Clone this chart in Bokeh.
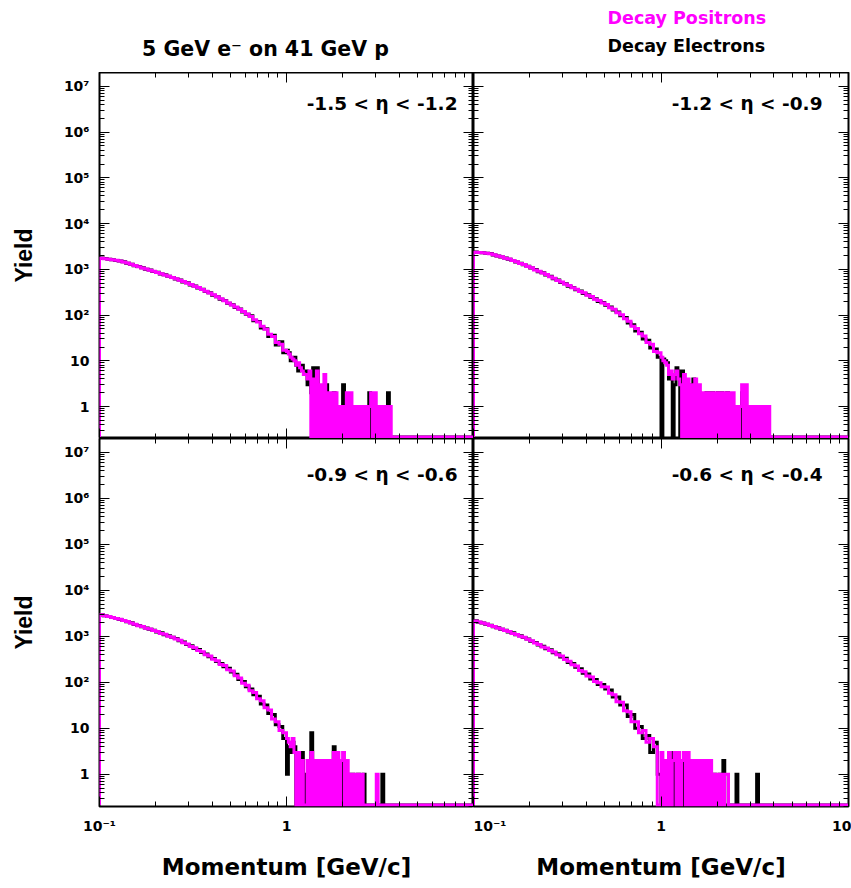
import numpy as np
from bokeh.plotting import figure
from bokeh.layouts import column, row
from bokeh.models import FixedTicker, LogAxis, LogScale, Label
from bokeh.embed import file_html
from bokeh.resources import INLINE

# ---------------------------------------------------------------------------
# Momentum binning: 50 log bins per decade from 0.1 to 1 GeV/c, then
# 100 log bins per decade from 1 to ~4 GeV/c
# ---------------------------------------------------------------------------
edges = np.concatenate([10 ** (-1 + np.arange(50) / 50),
                        10 ** (np.arange(61) / 100)])

# Yields per bin: *_lo covers 0.1-1 GeV/c, *_hi covers 1-4 GeV/c
pos_eta1_lo = [1740, 1700, 1650, 1610, 1570, 1510, 1450, 1370, 1280, 1210,
               1140, 1070, 1010, 950, 900, 850, 800, 750, 705, 660,
               620, 575, 540, 500, 462, 428, 398, 362, 332, 302,
               276, 250, 226, 206, 184, 166, 150, 133, 119, 105,
               93, 79, 70, 57, 49, 38, 34, 25, 23, 17]
pos_eta1_hi = [16, 14, 12, 11, 10, 8, 9, 7, 6, 5,
               5, 4, 6, 0, 4, 0, 6, 0, 3, 0,
               5, 0, 2, 0, 2, 0, 2, 0, 1, 0,
               1, 0, 2, 0, 2, 0, 1, 0, 1, 0,
               1, 0, 1, 0, 1, 2, 0, 2, 0, 1,
               0, 1, 0, 1, 0, 1, 0, 0, 0, 0]
ele_eta1_lo = [1760, 1710, 1660, 1620, 1560, 1520, 1460, 1360, 1290, 1200,
               1150, 1080, 1000, 960, 890, 860, 790, 760, 700, 665,
               610, 580, 530, 505, 455, 430, 390, 365, 325, 305,
               270, 252, 222, 208, 180, 168, 146, 135, 116, 104,
               96, 75, 72, 52, 50, 34, 36, 22, 26, 15]
ele_eta1_hi = [17, 15, 10, 11, 12, 8, 6, 7, 8, 6,
               6, 3, 5, 2, 7, 0, 7, 0, 0, 2,
               0, 3, 0, 1, 0, 2, 0, 1, 0, 1,
               3, 0, 1, 0, 1, 0, 1, 0, 0, 1,
               1, 0, 1, 0, 2, 0, 1, 0, 1, 0,
               1, 0, 0, 1, 2, 0, 0, 0, 0, 0]

pos_eta2_lo = [2370, 2340, 2290, 2250, 2180, 2070, 1950, 1870, 1750, 1670,
               1550, 1460, 1340, 1270, 1150, 1080, 970, 900, 825, 765,
               690, 635, 570, 530, 475, 440, 395, 368, 325, 305,
               272, 254, 220, 207, 182, 170, 145, 134, 112, 102,
               83, 73, 57, 51, 39, 35, 25, 23, 16, 15]
pos_eta2_hi = [12, 10, 9, 8, 5, 6, 4, 5, 6, 4,
               3, 0, 5, 0, 4, 0, 3, 0, 4, 0,
               3, 0, 2, 0, 2, 0, 2, 0, 2, 0,
               2, 0, 2, 0, 2, 0, 2, 0, 2, 0,
               1, 0, 1, 3, 0, 3, 0, 1, 0, 1,
               0, 1, 0, 1, 0, 1, 0, 1, 0, 0]
ele_eta2_lo = [2390, 2330, 2300, 2230, 2200, 2050, 1960, 1850, 1770, 1650,
               1560, 1440, 1360, 1250, 1160, 1060, 990, 880, 835, 750,
               700, 620, 580, 515, 485, 425, 400, 355, 335, 295,
               278, 246, 228, 198, 188, 164, 150, 128, 116, 96,
               88, 67, 61, 45, 42, 30, 28, 19, 18, 12]
ele_eta2_hi = [0, 11, 10, 9, 4, 5, 0, 3, 7, 6,
               0, 6, 0, 2, 0, 3, 0, 4, 1, 0,
               2, 0, 1, 0, 2, 2, 0, 2, 0, 1,
               2, 0, 2, 0, 1, 2, 0, 1, 0, 1,
               0, 1, 0, 2, 0, 1, 0, 1, 0, 1,
               1, 0, 1, 0, 1, 1, 0, 0, 0, 0]

pos_eta3_lo = [2950, 2820, 2700, 2570, 2440, 2350, 2200, 2100, 1960, 1830,
               1710, 1630, 1500, 1440, 1340, 1270, 1160, 1110, 1010, 960,
               880, 820, 730, 685, 605, 565, 495, 462, 398, 372,
               318, 296, 244, 231, 188, 176, 140, 124, 96, 86,
               66, 60, 44, 40, 28, 25, 16, 14, 9, 8]
pos_eta3_hi = [6, 5, 4, 6, 3, 0, 3, 0, 2, 0,
               0, 2, 0, 3, 0, 2, 0, 2, 0, 2,
               0, 2, 0, 2, 0, 3, 0, 3, 0, 2,
               3, 0, 2, 0, 1, 0, 1, 0, 1, 0,
               1, 0, 0, 0, 0, 0, 0, 0, 1, 0,
               0, 0, 0, 0, 0, 0, 0, 0, 0, 0]
ele_eta3_lo = [2960, 2810, 2690, 2580, 2450, 2330, 2220, 2080, 1980, 1810,
               1730, 1610, 1520, 1420, 1360, 1250, 1190, 1090, 1030, 950,
               900, 800, 750, 665, 625, 545, 515, 448, 412, 358,
               332, 284, 256, 219, 202, 168, 150, 116, 104, 80,
               72, 54, 50, 34, 32, 21, 20, 12, 11, 6]
ele_eta3_hi = [1, 4, 3, 5, 4, 0, 2, 0, 3, 0,
               1, 0, 2, 8, 0, 1, 0, 2, 0, 1,
               2, 0, 1, 0, 0, 4, 0, 1, 0, 2,
               0, 1, 0, 1, 0, 1, 0, 0, 1, 0,
               0, 1, 0, 0, 0, 0, 0, 0, 0, 0,
               0, 1, 0, 0, 0, 0, 0, 0, 0, 0]

pos_eta4_lo = [2160, 2050, 1940, 1850, 1730, 1630, 1520, 1450, 1340, 1270,
               1160, 1100, 1010, 960, 860, 800, 715, 665, 590, 555,
               490, 455, 400, 372, 315, 288, 242, 226, 182, 170,
               138, 130, 104, 98, 80, 79, 58, 54, 38, 37,
               24, 23, 14, 14, 8, 9, 5, 6, 4, 0]
pos_eta4_hi = [3, 0, 2, 0, 3, 0, 2, 3, 0, 3,
               0, 2, 3, 0, 3, 0, 2, 0, 2, 0,
               2, 0, 2, 0, 2, 0, 2, 0, 1, 0,
               1, 0, 1, 0, 1, 1, 0, 0, 0, 0,
               0, 0, 0, 0, 0, 0, 0, 0, 0, 0,
               0, 0, 0, 0, 0, 0, 0, 0, 0, 0]
ele_eta4_lo = [2170, 2030, 1960, 1830, 1750, 1610, 1540, 1430, 1360, 1250,
               1190, 1080, 1030, 945, 880, 785, 735, 650, 610, 540,
               510, 440, 420, 355, 335, 270, 258, 212, 198, 158,
               152, 118, 116, 90, 90, 72, 68, 48, 48, 32,
               32, 18, 20, 10, 11, 6, 7, 3, 5, 1]
ele_eta4_hi = [0, 2, 0, 1, 2, 0, 3, 0, 1, 0,
               2, 0, 3, 0, 1, 0, 1, 2, 0, 1,
               0, 2, 0, 1, 0, 1, 0, 0, 1, 0,
               0, 1, 0, 2, 0, 0, 0, 0, 0, 0,
               1, 0, 0, 0, 0, 0, 0, 0, 0, 0,
               0, 1, 0, 0, 0, 0, 0, 0, 0, 0]

eta_labels = ["-1.5 < η < -1.2", "-1.2 < η < -0.9",
              "-0.9 < η < -0.6", "-0.6 < η < -0.4"]

x_major = [0.1, 1.0, 10.0]
x_tick_labels = {0.1: "10⁻¹", 1.0: "1", 10.0: "10"}
y_major = [10.0 ** d for d in range(0, 8)]
y_tick_labels = {1.0: "1", 10.0: "10", 100.0: "10²", 1000.0: "10³",
                 1e4: "10⁴", 1e5: "10⁵", 1e6: "10⁶", 1e7: "10⁷"}

X_RANGE = (0.1, 10.0)
Y_RANGE = (0.2, 2.0e7)
EMPTY_LEVEL = 0.215   # empty bins are drawn just above the frame bottom

x_minor = [m * 10.0 ** d for d in (-1, 0) for m in range(2, 10)]
y_minor = [m * 10.0 ** d for d in range(-1, 8) for m in range(2, 10)
           if Y_RANGE[0] <= m * 10.0 ** d <= Y_RANGE[1]]

FONT = "DejaVu Sans"
MAGENTA = "#ff00ff"


def outline(lo, hi):
    """Histogram outline: empty bins sit on the bottom of the frame."""
    v = np.asarray(lo + hi, dtype=float)
    v = np.where(v > 0, v, EMPTY_LEVEL)
    xs = np.repeat(edges, 2)
    ys = np.concatenate([[EMPTY_LEVEL], np.repeat(v, 2), [EMPTY_LEVEL]])
    xs = np.append(xs, X_RANGE[1])
    ys = np.append(ys, EMPTY_LEVEL)
    return xs, ys


def tick_style(ax):
    ax.axis_line_color = None
    ax.major_tick_in = 10
    ax.major_tick_out = 0
    ax.minor_tick_out = 0
    ax.major_tick_line_color = "black"
    ax.minor_tick_line_color = "black"
    ax.major_tick_line_width = 1
    ax.minor_tick_line_width = 1


def labelled_axis(ax, major, minor, labels):
    """Axis carrying tick labels (major ticks long, minor ticks short)."""
    ax.ticker = FixedTicker(ticks=major, minor_ticks=minor)
    tick_style(ax)
    ax.minor_tick_in = 5
    ax.major_label_overrides = labels
    ax.major_label_text_font = FONT
    ax.major_label_text_font_style = "bold"
    ax.major_label_text_font_size = "14px"
    ax.major_label_text_color = "black"


def bare_axes(p, side, major, minor):
    """Unlabelled inward ticks: one axis for short ticks, one for long."""
    for positions, length in ((minor, 5), (major, 10)):
        ax = LogAxis(ticker=FixedTicker(ticks=[], minor_ticks=positions))
        tick_style(ax)
        ax.minor_tick_in = length
        p.add_layout(ax, side)


def panel(pos, ele, eta, eta_x, eta_y, width, height, borders,
          y_labels=None, x_labels=None):
    left, right, top, bottom = borders
    p = figure(width=width, height=height,
               x_axis_type=None, y_axis_type=None,
               x_range=X_RANGE, y_range=Y_RANGE,
               output_backend="svg", toolbar_location=None,
               min_border_left=left, min_border_right=right,
               min_border_top=top, min_border_bottom=bottom)
    p.x_scale = LogScale()
    p.y_scale = LogScale()
    p.grid.visible = False
    p.background_fill_color = "white"
    p.border_fill_color = "white"
    p.outline_line_color = "black"
    p.outline_line_width = 2

    if x_labels is not None:
        xb = LogAxis()
        labelled_axis(xb, list(x_labels), x_minor, x_labels)
        xb.axis_label = "Momentum [GeV/c]"
        xb.axis_label_text_font = FONT
        xb.axis_label_text_font_style = "bold"
        xb.axis_label_text_font_size = "23px"
        xb.axis_label_text_color = "black"
        xb.axis_label_standoff = 17
        xb.major_label_standoff = 11
        p.add_layout(xb, "below")
    else:
        bare_axes(p, "below", x_major, x_minor)

    if y_labels is not None:
        yl = LogAxis()
        labelled_axis(yl, y_major, y_minor, y_labels)
        yl.axis_label = "Yield"
        yl.axis_label_text_font = "Liberation Sans"
        yl.axis_label_text_font_style = "bold"
        yl.axis_label_text_font_size = "23px"
        yl.axis_label_text_color = "black"
        yl.axis_label_standoff = 24
        yl.major_label_standoff = 10
        p.add_layout(yl, "left")
    else:
        bare_axes(p, "left", y_major, y_minor)

    bare_axes(p, "above", x_major, x_minor)
    bare_axes(p, "right", y_major, y_minor)

    ex, ey = outline(*ele)
    p.line(ex, ey, line_color="black", line_width=3, line_join="miter")
    px, py = outline(*pos)
    p.line(px, py, line_color=MAGENTA, line_width=3, line_join="miter")

    p.add_layout(Label(x=eta_x, y=eta_y, x_units="screen", y_units="screen",
                       text=eta, text_font=FONT, text_font_style="bold",
                       text_font_size="18.5px", text_align="right",
                       text_baseline="alphabetic", text_color="black"))
    return p


FRAME_W_L, FRAME_W_R = 374, 375
FRAME_H_T, FRAME_H_B = 366, 368
HEADER_H = 72

# header strip: beam configuration and species key
header = figure(width=99 + FRAME_W_L + FRAME_W_R + 3, height=HEADER_H,
                x_range=(0, 1), y_range=(0, 1),
                x_axis_type=None, y_axis_type=None,
                output_backend="svg", toolbar_location=None,
                min_border=0, outline_line_color=None)
header.grid.visible = False
header.add_layout(Label(x=265, y=24, x_units="screen", y_units="screen",
                        text="5 GeV e⁻ on 41 GeV p", text_font=FONT,
                        text_font_style="bold", text_font_size="20.5px",
                        text_align="center", text_baseline="alphabetic",
                        text_color="black"))
header.add_layout(Label(x=607, y=55, x_units="screen", y_units="screen",
                        text="Decay Positrons", text_font=FONT,
                        text_font_style="bold", text_font_size="17.5px",
                        text_align="left", text_baseline="alphabetic",
                        text_color=MAGENTA))
header.add_layout(Label(x=607, y=27, x_units="screen", y_units="screen",
                        text="Decay Electrons", text_font=FONT,
                        text_font_style="bold", text_font_size="17.5px",
                        text_align="left", text_baseline="alphabetic",
                        text_color="black"))

tl = panel((pos_eta1_lo, pos_eta1_hi), (ele_eta1_lo, ele_eta1_hi),
           eta_labels[0], 358, 335,
           99 + FRAME_W_L, FRAME_H_T, (99, 0, 0, 0),
           y_labels=y_tick_labels)
tr = panel((pos_eta2_lo, pos_eta2_hi), (ele_eta2_lo, ele_eta2_hi),
           eta_labels[1], 349, 335,
           FRAME_W_R + 3, FRAME_H_T, (0, 3, 0, 0))
bl = panel((pos_eta3_lo, pos_eta3_hi), (ele_eta3_lo, ele_eta3_hi),
           eta_labels[2], 358, 332,
           99 + FRAME_W_L, FRAME_H_B + 82, (99, 0, 0, 82),
           y_labels=y_tick_labels,
           x_labels={0.1: x_tick_labels[0.1], 1.0: x_tick_labels[1.0]})
br = panel((pos_eta4_lo, pos_eta4_hi), (ele_eta4_lo, ele_eta4_hi),
           eta_labels[3], 349, 332,
           FRAME_W_R + 3, FRAME_H_B + 82, (0, 3, 0, 82),
           x_labels=x_tick_labels)

layout = column(header, row(tl, tr), row(bl, br))

open("out.html", "w").write(file_html(layout, INLINE))
